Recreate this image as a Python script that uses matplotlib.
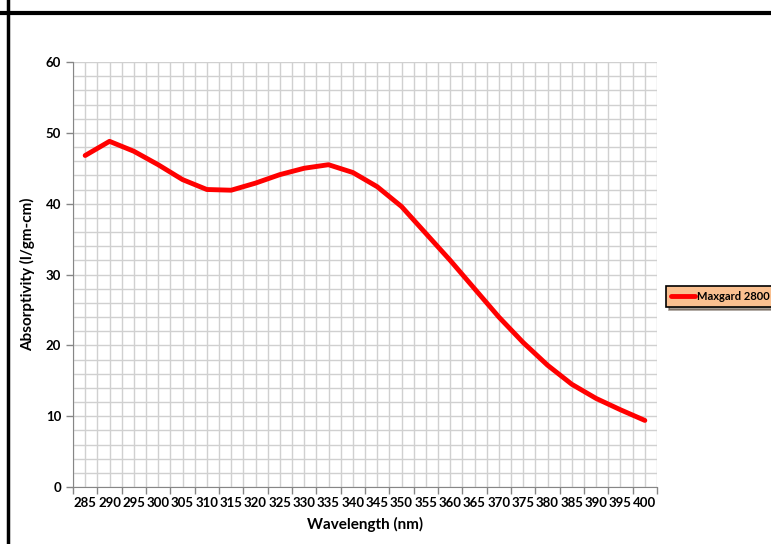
import numpy as np
import matplotlib
matplotlib.use('Agg')
import matplotlib.pyplot as plt
from matplotlib.lines import Line2D

plt.rcParams['font.family'] = ['Lato', 'DejaVu Sans']

# Dados
comprimentos = [285, 290, 295, 300, 305, 310, 315, 320, 325, 330, 335, 340,
                345, 350, 355, 360, 365, 370, 375, 380, 385, 390, 395, 400]
absortividade = [46.8, 48.8, 47.4, 45.5, 43.4, 42.0, 41.9, 42.9, 44.1, 45.0, 45.5, 44.4,
                 42.4, 39.6, 35.8, 32.0, 28.0, 24.0, 20.4, 17.2, 14.5, 12.5, 10.9, 9.4]
serie = 'Maxgard 2800'

fig = plt.figure(figsize=(7.71, 5.44), dpi=100)
ax = fig.add_axes([73 / 771, 1 - 487 / 544, (657 - 73) / 771, (487 - 62) / 544])

x = np.arange(len(comprimentos))
ax.plot(x, absortividade, color='#ff0000', lw=3.5, solid_capstyle='round', label=serie, zorder=3)

# Eixo x: categorias
ax.set_xlim(-0.5, len(comprimentos) - 0.5)
ax.set_xticks(np.arange(-0.5, len(comprimentos)), labels=[''] * (len(comprimentos) + 1))
ax.set_xticks(x, labels=[str(c) for c in comprimentos], minor=True)
ax.tick_params(axis='x', which='major', length=5, color='#868686', width=1)
ax.tick_params(axis='x', which='minor', length=0, pad=7, labelsize=9.5)

# Eixo y
ax.set_ylim(0, 60)
ax.set_yticks(np.arange(0, 61, 10))
ax.set_yticks(np.arange(0, 61, 2), minor=True)
ax.tick_params(axis='y', which='major', length=5, color='#868686', width=1, labelsize=9.5)
ax.tick_params(axis='y', which='minor', length=0)

for lbl in ax.get_xticklabels(minor=True) + ax.get_yticklabels():
    lbl.set_fontweight('bold')

ax.grid(True, which='both', color='#d0d0d0', lw=1)
ax.set_axisbelow(True)
for s in ['top', 'right']:
    ax.spines[s].set_visible(False)
for s in ['left', 'bottom']:
    ax.spines[s].set_color('#868686')

ax.set_xlabel('Wavelength (nm)', fontsize=11, fontweight='bold', labelpad=6)
ax.set_ylabel('Absorptivity (l/gm-cm)', fontsize=11, fontweight='bold', labelpad=8)

leg = ax.legend(loc='upper left', bbox_to_anchor=(666 / 771, 1 - 286 / 544), bbox_transform=fig.transFigure,
                frameon=True, fancybox=False, shadow=True, fontsize=8, handlelength=2.2,
                borderpad=0.45, handletextpad=0.15, borderaxespad=0)
leg.get_frame().set_facecolor('#fac090')
leg.get_frame().set_edgecolor('black')
leg.get_frame().set_linewidth(1.2)
leg.get_frame().set_alpha(1)
for t in leg.get_texts():
    t.set_fontweight('bold')

# Moldura preta
fig.add_artist(Line2D([0.0, 1.0], [1 - 13 / 544, 1 - 13 / 544], color='black', lw=3, transform=fig.transFigure))
fig.add_artist(Line2D([8 / 771, 8 / 771], [0, 1], color='black', lw=2.5, transform=fig.transFigure))

fig.savefig('out.png', dpi=100)
